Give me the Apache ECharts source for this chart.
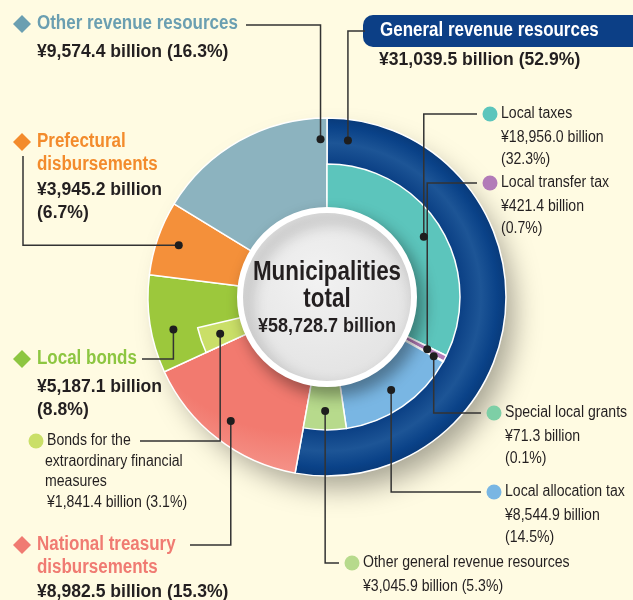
<!DOCTYPE html>
<html>
<head>
<meta charset="utf-8">
<script src="https://cdn.jsdelivr.net/npm/echarts@6/dist/echarts.min.js"></script>
<style>
  html, body { margin: 0; background: #fffbe2; }
  #chart { width: 633px; height: 600px; }
</style>
</head>
<body>
<div id="chart"></div>
<script>
// top level breakdown (billion yen)
const mainNames = ['General revenue resources', 'National treasury disbursements', 'Local bonds', 'Prefectural disbursements', 'Other revenue resources']
const mainValues = [31039.5, 8982.5, 5187.1, 3945.2, 9574.4]
const mainShares = [52.9, 15.3, 8.8, 6.7, 16.3]
// breakdown of general revenue resources
const generalNames = ['Local taxes', 'Local transfer tax', 'Special local grants', 'Local allocation tax', 'Other general revenue resources']
const generalValues = [18956.0, 421.4, 71.3, 8544.9, 3045.9]
const generalShares = [32.3, 0.7, 0.1, 14.5, 5.3]
// part of local bonds
const bondNames = ['Bonds for the extraordinary financial measures']
const bondValues = [1841.4]
const bondShares = [3.1]
const totalLabel = '¥58,728.7 billion'

const CX = 327, CY = 297
const R_IN = 86, R_MID = 133, R_OUT = 179
const SANS = '"Liberation Sans", Arial, sans-serif'

const mainColors = ['#0b4388', '#f27a6f', '#9cc83c', '#f4903a', '#8cb3bf']
const mainLight = ['#0b4388', '#f5948a', '#b0d65c', '#f7a860', '#a9c7d1']
const generalColors = ['#5cc5bc', '#b27bb8', '#7dcfa6', '#79b6e3', '#b7da8c']
const bondColor = '#cadf68'

const total = mainValues.reduce((a, b) => a + b, 0)
const fmt = v => '¥' + v.toLocaleString('en-US', { minimumFractionDigits: 1, maximumFractionDigits: 1 }) + ' billion'

// angle (deg, clockwise from 12 o'clock) inside a slice
function sliceAngle(before, value, frac) {
  return (before + value * frac) / total * 360
}
function pointAt(deg, r) {
  const a = deg * Math.PI / 180
  return [CX + r * Math.sin(a), CY - r * Math.cos(a)]
}
const cum = arr => arr.map((v, i) => arr.slice(0, i).reduce((a, b) => a + b, 0))
const mainBefore = cum(mainValues)
const genBefore = cum(generalValues)

const hidden = { color: 'transparent', borderWidth: 0 }
const ringFill = (base, light) => ({
  type: 'radial', x: CX - 30, y: CY - 40, r: R_OUT + 40, global: true,
  colorStops: [{ offset: 0.45, color: base }, { offset: 0.8, color: base }, { offset: 1, color: light }]
})

// outer (full) pie
const outerData = mainNames.map((n, i) => ({
  name: n,
  value: mainValues[i],
  itemStyle: {
    color: i === 0 ? {
      type: 'radial', x: CX, y: CY, r: R_OUT, global: true,
      colorStops: [{ offset: 0.74, color: '#0a3f84' }, { offset: 0.86, color: '#1d5596' }, { offset: 0.95, color: '#0a4288' }, { offset: 1, color: '#083a7a' }]
    } : ringFill(mainColors[i], mainLight[i])
  }
}))

// inner ring: general items + bonds sub item, rest hidden
const innerData = generalNames.map((n, i) => ({ name: n, value: generalValues[i], itemStyle: { color: generalColors[i] } }))
innerData.push({ name: 'nt-gap', value: mainValues[1], itemStyle: hidden })
innerData.push({ name: bondNames[0], value: bondValues[0], itemStyle: { color: bondColor } })
innerData.push({ name: 'rest-gap', value: mainValues[2] - bondValues[0] + mainValues[3] + mainValues[4], itemStyle: hidden })

// leader lines + texts
const graphics = []
function dot(p) {
  graphics.push({ type: 'circle', z: 20, shape: { cx: p[0], cy: p[1], r: 4 }, style: { fill: '#1e1e1e' } })
}
function line(points) {
  graphics.push({ type: 'polyline', z: 19, shape: { points }, style: { stroke: '#333', lineWidth: 1.5, fill: null } })
}
// font spec: [size, weight, horizontal squeeze] to mimic a condensed face
const F_TITLE = [19.5, 'bold', 0.87]
const F_VALUE = [18.5, 'bold', 0.95]
const F_SMALL = [16, 'normal', 0.88]
function text(x, y, str, f, fill, align) {
  graphics.push({
    type: 'text', z: 20, x, y, scaleX: f[2],
    style: { text: str, font: f[1] + ' ' + f[0] + 'px ' + SANS, fill, textAlign: align || 'left', textVerticalAlign: 'middle', align: align || 'left', verticalAlign: 'middle' }
  })
}
function diamond(x, y, color) {
  const s = 9
  graphics.push({ type: 'polygon', z: 20, shape: { points: [[x, y - s], [x + s, y], [x, y + s], [x - s, y]] }, style: { fill: color } })
}
function bullet(x, y, color) {
  graphics.push({ type: 'circle', z: 20, shape: { cx: x, cy: y, r: 7.5 }, style: { fill: color } })
}
const dark = '#231f20'

// general revenue resources
{
  const p = pointAt(sliceAngle(mainBefore[0], mainValues[0], 0.04), (R_MID + R_OUT) / 2 + 2)
  dot(p); line([p, [p[0], 31], [365, 31]])
  graphics.push({ type: 'rect', z: 18, shape: { x: 363, y: 15, width: 300, height: 32, r: 10 }, style: { fill: '#0c3f86' } })
  text(380, 31, mainNames[0], F_TITLE, '#fff')
  text(379, 60, fmt(mainValues[0]) + ' (' + mainShares[0] + '%)', F_VALUE, dark)
}
// other revenue resources
{
  const p = pointAt(sliceAngle(mainBefore[4], mainValues[4], 0.96), (R_MID + R_OUT) / 2 + 2)
  dot(p); line([p, [p[0], 25], [246, 25]])
  diamond(22, 24, '#6b9fb1')
  text(37, 24, mainNames[4], F_TITLE, '#6b9fb1')
  text(37, 52, fmt(mainValues[4]) + ' (' + mainShares[4] + '%)', F_VALUE, dark)
}
// prefectural disbursements
{
  const p = pointAt(sliceAngle(mainBefore[3], mainValues[3], 0.5), 157)
  dot(p); line([p, [23, p[1]], [23, 156]])
  diamond(22, 142, '#f38b2c')
  text(37, 142, 'Prefectural', F_TITLE, '#f38b2c')
  text(37, 165, 'disbursements', F_TITLE, '#f38b2c')
  text(37, 190, fmt(mainValues[3]), F_VALUE, dark)
  text(37, 213, '(' + mainShares[3] + '%)', F_VALUE, dark)
}
// local bonds
{
  const p = pointAt(sliceAngle(mainBefore[2], mainValues[2], 0.4), 157)
  dot(p); line([p, [p[0], 359], [142, 359]])
  diamond(22, 359, '#8dc641')
  text(37, 359, mainNames[2], F_TITLE, '#8dc641')
  text(37, 387, fmt(mainValues[2]), F_VALUE, dark)
  text(37, 410, '(' + mainShares[2] + '%)', F_VALUE, dark)
}
// bonds for the extraordinary financial measures
{
  const p = pointAt(sliceAngle(mainBefore[2], bondValues[0], 0.5), 113)
  dot(p); line([p, [p[0], 441], [140, 441]])
  bullet(36, 441, bondColor)
  text(47, 441, 'Bonds for the', F_SMALL, dark)
  text(45, 462, 'extraordinary financial', F_SMALL, dark)
  text(45, 482, 'measures', F_SMALL, dark)
  text(47, 503, fmt(bondValues[0]) + ' (' + bondShares[0] + '%)', F_SMALL, dark)
}
// national treasury disbursements
{
  const p = pointAt(sliceAngle(mainBefore[1], mainValues[1], 0.5), 157)
  dot(p); line([p, [p[0], 545], [190, 545]])
  diamond(22, 545, '#f07b72')
  text(37, 545, 'National treasury', F_TITLE, '#f07b72')
  text(37, 568, 'disbursements', F_TITLE, '#f07b72')
  text(37, 592, fmt(mainValues[1]) + ' (' + mainShares[1] + '%)', F_VALUE, dark)
}
// general revenue breakdown labels
const genLayout = [
  { r: 114, ly: 114, bx: 490, tx: 501, lines: 3 },
  { r: 113, ly: 183, bx: 490, tx: 501, lines: 3 },
  { r: 122, ly: 413, bx: 494, tx: 505, lines: 3 },
  { r: 113, ly: 492, bx: 494, tx: 505, lines: 3 },
  { r: 114, ly: 563, bx: 352, tx: 363, lines: 2 }
]
genLayout.forEach((g, i) => {
  const p = pointAt(sliceAngle(genBefore[i], generalValues[i], 0.5), g.r)
  dot(p); line([p, [p[0], g.ly], [g.bx - 13, g.ly]])
  bullet(g.bx, g.ly, generalColors[i])
  text(g.tx, g.ly, generalNames[i], F_SMALL, dark)
  if (g.lines === 3) {
    text(g.tx, g.ly + 24, fmt(generalValues[i]), F_SMALL, dark)
    text(g.tx, g.ly + 46, '(' + generalShares[i] + '%)', F_SMALL, dark)
  } else {
    text(g.tx, g.ly + 24, fmt(generalValues[i]) + ' (' + generalShares[i] + '%)', F_SMALL, dark)
  }
})

// pie drop shadow
graphics.unshift({ type: 'circle', z: 0, shape: { cx: CX, cy: CY, r: R_OUT - 4 }, style: { fill: '#fffbe2', shadowBlur: 28, shadowOffsetX: 12, shadowOffsetY: 16, shadowColor: 'rgba(0,0,0,0.35)' } })
// centre disc
graphics.push({ type: 'circle', z: 15, shape: { cx: CX, cy: CY, r: R_IN + 1 }, style: {
  fill: { type: 'radial', x: 0.45, y: 0.4, r: 0.7, colorStops: [{ offset: 0, color: '#f2f2f2' }, { offset: 1, color: '#e0e0e0' }] },
  stroke: '#ffffff', lineWidth: 6, shadowBlur: 16, shadowOffsetX: 6, shadowOffsetY: 8, shadowColor: 'rgba(0,0,0,0.35)' } })
text(CX, 272, 'Municipalities', [28, 'bold', 0.8], dark, 'center')
text(CX, 299, 'total', [28, 'bold', 0.8], dark, 'center')
text(CX, 326, totalLabel, [20, 'bold', 0.9], dark, 'center')

const chart = echarts.init(document.getElementById('chart'), null, { renderer: 'canvas' })
chart.setOption({
  backgroundColor: '#fffbe2',
  animation: false,
  graphic: { elements: graphics },
  series: [
    {
      type: 'pie',
      center: [CX, CY],
      radius: [R_IN, R_OUT],
      startAngle: 90,
      clockwise: true,
      silent: true,
      label: { show: false },
      labelLine: { show: false },
      itemStyle: { borderColor: '#fff', borderWidth: 1.5 },
      data: outerData
    },
    {
      type: 'pie',
      center: [CX, CY],
      radius: [R_IN, R_MID],
      startAngle: 90,
      clockwise: true,
      silent: true,
      z: 3,
      label: { show: false },
      labelLine: { show: false },
      itemStyle: { borderColor: '#fff', borderWidth: 1.5 },
      data: innerData
    }
  ]
})
</script>
</body>
</html>
